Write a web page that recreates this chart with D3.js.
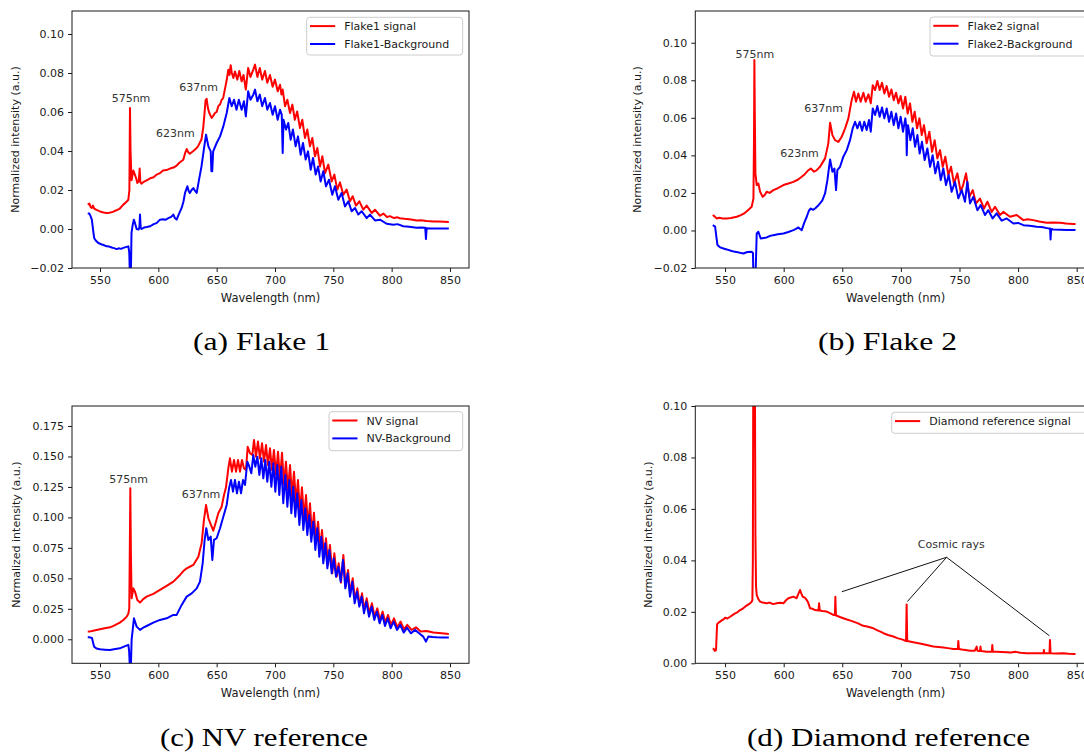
<!DOCTYPE html>
<html><head><meta charset="utf-8">
<script src="https://cdn.jsdelivr.net/npm/d3@7"></script>
<style>html,body{margin:0;padding:0;background:#fff;overflow:hidden}svg{display:block}</style>
</head><body>
<svg id="fig" width="1084" height="754"></svg>
<script>
// ---------------- data ----------------
const wavelengthTicks = [550, 600, 650, 700, 750, 800, 850];
const yTicksFlake = [-0.02, 0, 0.02, 0.04, 0.06, 0.08, 0.10];
const yTicksNV = [0, 0.025, 0.05, 0.075, 0.1, 0.125, 0.15, 0.175];
const yTicksDiamond = [0, 0.02, 0.04, 0.06, 0.08, 0.10];

const flake1Signal = [[539.5,0.0125],[540.9,0.013],[542,0.0112],[543,0.0108],[544,0.012],[545,0.0105],[547,0.0098],[550,0.009],[553,0.0085],[555.7,0.0082],[558,0.0083],[561,0.0088],[564,0.0096],[567,0.0105],[570,0.0125],[572.5,0.0138],[574.3,0.015],[575.2,0.02],[575.7,0.062],[576.2,0.04],[577,0.025],[578.6,0.030],[579.5,0.0285],[581,0.026],[582,0.0236],[583.2,0.0245],[584,0.031],[584.6,0.024],[585.5,0.0232],[587,0.024],[590,0.025],[593,0.026],[596,0.0265],[598.6,0.0279],[601,0.0285],[604,0.030],[607,0.0302],[610,0.031],[613,0.0315],[615.7,0.0325],[618,0.034],[621.4,0.0355],[623,0.039],[624.3,0.041],[625.5,0.0395],[627,0.0386],[630,0.040],[632,0.041],[634,0.0424],[637,0.046],[638.5,0.052],[639.4,0.058],[640.5,0.066],[641.4,0.0668],[642.5,0.062],[643.7,0.0595],[645.7,0.057],[647,0.058],[648.6,0.0595],[650,0.060],[651.4,0.063],[653,0.064],[654.3,0.0663],[655.5,0.067],[657,0.0715],[658.5,0.076],[660,0.0817],[661,0.079],[662,0.084],[663,0.080],[664.3,0.0774],[665.7,0.0808],[667.7,0.0766],[669.4,0.081],[671.4,0.0757],[673,0.079],[675,0.0715],[677,0.0826],[679,0.078],[681.4,0.0817],[682.9,0.0843],[684.9,0.078],[687,0.0826],[689,0.0766],[691.4,0.081],[693.4,0.075],[695.7,0.079],[698,0.073],[700,0.0766],[702.3,0.0706],[704.3,0.074],[705.5,0.069],[706.6,0.0715],[708.6,0.063],[710.6,0.0663],[712.9,0.0595],[714.9,0.0638],[717,0.056],[719,0.0603],[721.4,0.0518],[723.4,0.056],[725.7,0.0467],[727.7,0.051],[730,0.0424],[732,0.0467],[734.3,0.0373],[736.3,0.0415],[738.6,0.0321],[740.6,0.0373],[742.9,0.0287],[745.7,0.033],[748.6,0.0244],[750.9,0.0279],[753.4,0.0202],[755.7,0.0239],[758.6,0.0176],[761.4,0.0202],[764.3,0.0142],[766.6,0.0168],[769.4,0.012],[772.3,0.0142],[775.7,0.0099],[778.6,0.012],[782.9,0.0082],[785.7,0.0099],[790,0.0068],[792.9,0.0079],[796,0.0062],[798.6,0.0066],[802,0.0056],[805,0.006],[807,0.0055],[811,0.0052],[815,0.005],[818,0.0047],[821.4,0.0044],[825,0.0045],[830,0.0041],[835.7,0.0039],[840,0.0038],[845,0.0037],[849,0.0036]];

const flake1Background = [[539.5,0.008],[540.9,0.0079],[542,0.0065],[543,0.0048],[544,0.0],[545,-0.0046],[546.5,-0.006],[548.6,-0.0072],[551,-0.0078],[553,-0.0082],[555.7,-0.0089],[558,-0.009],[560,-0.0095],[562,-0.0098],[564.3,-0.0103],[566,-0.0099],[568,-0.0102],[570,-0.0097],[572,-0.0093],[574.3,-0.0089],[575.1,-0.012],[575.7,-0.026],[576.4,-0.026],[577,-0.002],[578,0.002],[579,0.0048],[580,0.003],[581.4,0.0],[583,-0.0003],[583.8,0.001],[584.3,0.0074],[584.9,0.0005],[585.7,0.0],[588,0.0008],[590,0.001],[593,0.0014],[596,0.0025],[598.5,0.003],[601.4,0.0048],[604,0.005],[606,0.0047],[608.6,0.0056],[611,0.0062],[612.9,0.0074],[614,0.0058],[615.7,0.0048],[617.5,0.0075],[620,0.0108],[621.5,0.014],[622.9,0.0185],[624.9,0.0219],[626,0.0195],[627,0.0185],[628.5,0.020],[630,0.021],[631.5,0.0195],[632.9,0.0185],[634.9,0.0253],[637,0.0321],[639,0.0407],[640.9,0.0484],[642.9,0.0424],[644.9,0.0398],[645.5,0.0296],[646.2,0.0296],[647,0.0398],[650,0.0441],[652.9,0.0475],[655.7,0.0526],[658.6,0.0595],[660.9,0.0672],[662.9,0.063],[664.9,0.0663],[667,0.0612],[669,0.0663],[671.4,0.0612],[673.4,0.0655],[675,0.0578],[677,0.0706],[679,0.0663],[681.4,0.0689],[682.9,0.0715],[684.9,0.0655],[687,0.0689],[689,0.063],[691.4,0.0672],[693.4,0.0612],[695.7,0.0646],[698,0.0586],[700,0.063],[702.3,0.056],[704.3,0.0612],[705.8,0.0585],[706.6,0.039],[707.3,0.056],[709.4,0.051],[711.4,0.0544],[713.4,0.0458],[715.4,0.051],[717.7,0.0424],[719.7,0.0475],[722,0.0381],[724,0.0441],[726.3,0.0356],[728.3,0.0398],[730.6,0.0304],[732.6,0.0364],[734.9,0.0279],[736.9,0.0321],[739.1,0.0244],[741.4,0.0296],[743.7,0.0219],[746.3,0.0253],[749.1,0.0176],[751.4,0.0219],[754.3,0.015],[757.1,0.0185],[760,0.0116],[762.9,0.0142],[765.7,0.0091],[768.6,0.0108],[771.4,0.0074],[774.3,0.0091],[778.6,0.0056],[781.4,0.0074],[785.7,0.0044],[790,0.0048],[795.7,0.0027],[801.4,0.0022],[805,0.0025],[810,0.0014],[815,0.0012],[821.4,0.0007],[825,0.0008],[828.8,0.0006],[829.4,-0.0051],[830,0.0004],[832.9,0.0003],[840,0.0003],[849,0.0003]];

const flake2Signal = [[539.5,0.0082],[541,0.0075],[542.9,0.0064],[545,0.0068],[548,0.0064],[551.4,0.0064],[555,0.0066],[560,0.0073],[563.5,0.0082],[567,0.0094],[570,0.011],[572.7,0.0126],[574.2,0.017],[574.7,0.05],[575,0.0908],[575.4,0.06],[575.9,0.0304],[577,0.0242],[578.4,0.025],[579.9,0.0206],[582.1,0.0179],[584,0.019],[585.5,0.0206],[588,0.020],[591.2,0.0215],[595,0.0225],[599.8,0.0242],[604,0.025],[608.3,0.0259],[612,0.027],[615.4,0.0286],[618,0.030],[621.1,0.0321],[623.1,0.033],[625.9,0.0313],[628,0.032],[631,0.0339],[633,0.036],[635.3,0.0384],[638.1,0.0464],[639.6,0.0574],[641.6,0.0508],[643.8,0.0481],[646.7,0.0472],[649.5,0.0499],[652.4,0.0544],[655.2,0.0597],[658,0.0694],[660,0.0739],[661.7,0.0686],[663.7,0.073],[665.7,0.0686],[668,0.0734],[670,0.0686],[672.3,0.0725],[674.3,0.0677],[676,0.0774],[678,0.0748],[679.9,0.0796],[681.9,0.0748],[683.9,0.0787],[685.9,0.073],[687.9,0.0769],[689.9,0.0712],[691.9,0.0751],[693.9,0.0694],[695.9,0.0734],[697.9,0.0677],[699.8,0.0716],[701.8,0.065],[703.8,0.0712],[705.8,0.0623],[707.8,0.0677],[709.8,0.0579],[711.8,0.0632],[713.8,0.0544],[715.8,0.0597],[717.8,0.0508],[719.7,0.0561],[722,0.0464],[724.3,0.0526],[726.6,0.0419],[728.8,0.0481],[731.1,0.0384],[733.4,0.0428],[735.7,0.0339],[737.9,0.0393],[740.5,0.0295],[742.8,0.0339],[745.3,0.025],[748.2,0.0304],[751,0.0206],[753,0.024],[755.6,0.0304],[758.4,0.0179],[761.3,0.0215],[764.1,0.0144],[767.5,0.017],[770.9,0.0117],[773.8,0.0153],[777.5,0.0099],[780.3,0.0126],[784.6,0.0082],[787.4,0.0099],[793.1,0.0073],[798.8,0.0082],[804.5,0.0055],[808,0.006],[813,0.0055],[818,0.0048],[824.4,0.0041],[830,0.0043],[835.8,0.0041],[841,0.0037],[847.1,0.0034],[849,0.0034]];

const flake2Background = [[539.5,0.0028],[541.5,0.002],[542.5,-0.003],[543.5,-0.0078],[545.7,-0.009],[548,-0.0095],[551.4,-0.0101],[555,-0.0108],[558.5,-0.0114],[562,-0.0118],[565.6,-0.0123],[569,-0.0115],[572.7,-0.0114],[573.8,-0.012],[574.2,-0.026],[575.9,-0.026],[577,-0.0016],[578.4,-0.0007],[580.4,-0.0043],[583,-0.004],[585.5,-0.0037],[588,-0.003],[591.2,-0.0025],[595,-0.002],[599.8,-0.0016],[604,-0.0008],[608.3,0.0002],[610.5,0.0008],[612.6,0.0016],[614,0.0008],[615.4,0.0002],[617.5,0.004],[619.7,0.0073],[621.5,0.0105],[623.1,0.0117],[625,0.011],[626.8,0.0117],[629,0.013],[631,0.0144],[633,0.016],[635.3,0.0197],[637.3,0.0268],[639.6,0.0378],[641.6,0.0313],[643.3,0.033],[644.7,0.0215],[645.8,0.0321],[648.1,0.0339],[650.9,0.0393],[653.8,0.0428],[656.6,0.0481],[658.9,0.0544],[660.9,0.0579],[662.9,0.0544],[664.9,0.0579],[666.9,0.0531],[668.8,0.0579],[670.8,0.0535],[672.8,0.0588],[674.3,0.0526],[676,0.065],[678,0.0615],[679.9,0.0663],[681.9,0.0606],[683.9,0.0655],[685.9,0.0597],[687.9,0.065],[689.9,0.0579],[691.9,0.0632],[693.9,0.0561],[695.9,0.0623],[697.9,0.0544],[699.8,0.0606],[701.8,0.0526],[703.8,0.0597],[704.6,0.055],[705,0.0401],[705.5,0.052],[706.1,0.0561],[708.1,0.0481],[710.1,0.0544],[712.1,0.0446],[714.1,0.0508],[716,0.041],[718,0.0472],[720.3,0.0375],[722.6,0.0437],[724.9,0.0339],[727.1,0.0401],[729.4,0.0304],[731.7,0.0366],[734,0.0268],[736.2,0.033],[738.5,0.0242],[740.8,0.0295],[743.3,0.0206],[746.2,0.0259],[749,0.0171],[751.9,0.0215],[754.7,0.0153],[756.7,0.0259],[759,0.0144],[761.8,0.0179],[765.3,0.0108],[768.1,0.0135],[771.8,0.0082],[774.6,0.0108],[778.3,0.0064],[781.7,0.0091],[786,0.0052],[790.3,0.0064],[796,0.0037],[800,0.004],[804.5,0.0028],[810,0.0025],[815.8,0.002],[820,0.0018],[825.7,0.0011],[827.3,0.001],[827.7,-0.0048],[828.2,0.0008],[830,0.0005],[836,0.0004],[842,0.0003],[849,0.0002]];

const nvSignal = [[539.5,0.0063],[540.9,0.0063],[545,0.0072],[550,0.0082],[554,0.009],[558.6,0.0098],[562,0.0112],[567,0.0137],[570,0.0158],[572.9,0.0186],[574.3,0.021],[575.1,0.0254],[575.6,0.08],[576,0.1239],[576.5,0.07],[577.1,0.0336],[578.6,0.0418],[580,0.0391],[582,0.0323],[584.3,0.0301],[587,0.033],[590,0.035],[595.7,0.0372],[601.4,0.0405],[607.1,0.0438],[612.9,0.0473],[618.6,0.0528],[622,0.0565],[624.3,0.0582],[627,0.0595],[630,0.061],[634.3,0.0678],[637.1,0.0788],[639.1,0.0979],[640.9,0.1102],[642.9,0.0993],[645.1,0.0938],[647.1,0.0891],[649.4,0.0965],[651.4,0.1034],[654.3,0.1088],[656.3,0.1184],[658,0.1247],[660,0.1403],[661.4,0.1485],[663.1,0.1375],[664.9,0.1471],[666.6,0.1375],[668.3,0.1471],[670,0.1375],[671.7,0.1471],[673.4,0.1403],[675.1,0.1389],[676.6,0.158],[678.6,0.1526],[680.6,0.1512],[682,0.1635],[683.7,0.1498],[685.4,0.1622],[687.1,0.1485],[688.9,0.1608],[690.6,0.1457],[692.3,0.1594],[694,0.143],[695.7,0.1567],[697.4,0.1389],[699.1,0.1553],[700.9,0.1348],[702.6,0.1539],[704.3,0.1307],[706,0.1531],[707.7,0.1266],[709.4,0.1457],[711.1,0.1225],[712.9,0.143],[714.6,0.117],[716.3,0.1375],[718,0.1116],[719.7,0.1307],[721.4,0.1047],[723.1,0.1247],[724.9,0.0993],[726.6,0.1184],[728.3,0.0924],[730,0.1116],[731.7,0.0856],[733.4,0.1039],[735.1,0.0788],[736.9,0.0965],[738.6,0.0733],[740.3,0.0897],[742,0.0664],[743.7,0.0829],[745.4,0.061],[747.1,0.0774],[749.1,0.0541],[750.9,0.0705],[752.9,0.0514],[754.6,0.0623],[756.6,0.0465],[758.6,0.0692],[760.6,0.0432],[762.6,0.0569],[764.6,0.0377],[766.6,0.05],[768.6,0.0323],[770.6,0.0418],[772.6,0.0282],[774.6,0.0377],[776.6,0.0241],[778.6,0.0336],[780.9,0.0213],[783.1,0.0295],[785.4,0.0186],[787.7,0.0254],[790,0.0159],[792.3,0.0227],[794.6,0.0137],[796.9,0.02],[799.4,0.0118],[802,0.0172],[804.9,0.0098],[807.7,0.0145],[810.6,0.0082],[813.4,0.0118],[817.1,0.0077],[820.9,0.0098],[824.9,0.0063],[830,0.0068],[835.7,0.0055],[842.9,0.0049],[849,0.0044]];

const nvBackground = [[539.5,0.0016],[540.9,0.0016],[543.1,0.0011],[544.9,-0.006],[547,-0.0075],[550,-0.0082],[554,-0.0085],[558.6,-0.0088],[562,-0.0082],[567,-0.0074],[570,-0.0062],[574.3,-0.0046],[575,-0.01],[575.7,-0.026],[576.4,-0.026],[577.1,-0.0005],[579.1,0.0172],[581.4,0.0104],[584.3,0.0077],[587,0.0095],[590,0.0109],[595.7,0.0137],[601.4,0.0159],[607.1,0.0172],[612.9,0.02],[615.7,0.02],[620,0.0282],[624.3,0.035],[628.6,0.0377],[632.9,0.0418],[635.7,0.0473],[638,0.0623],[639.7,0.0815],[641.1,0.0911],[642.9,0.0815],[644.9,0.0842],[646.3,0.0651],[647.7,0.0815],[650,0.0829],[652.9,0.0911],[655.7,0.1006],[658.6,0.1102],[660.6,0.1239],[662.3,0.1307],[664,0.1211],[665.7,0.1307],[667.4,0.1198],[669.1,0.1293],[670.9,0.1198],[672.6,0.1307],[674.3,0.1266],[676.3,0.1457],[678,0.1416],[679.7,0.1362],[681.4,0.1512],[683.1,0.1416],[684.9,0.1498],[686.6,0.1348],[688.3,0.1485],[690,0.1321],[691.7,0.1471],[693.4,0.1293],[695.1,0.1457],[696.9,0.1252],[698.6,0.1444],[700.3,0.1211],[702,0.143],[703.7,0.1184],[705.4,0.1416],[707.1,0.1116],[708.9,0.1348],[710.6,0.1088],[712.3,0.1307],[714,0.1034],[715.7,0.1252],[717.4,0.1006],[719.1,0.1198],[720.9,0.0938],[722.6,0.1143],[724.3,0.0897],[726,0.1075],[727.7,0.0856],[729.4,0.102],[731.1,0.0801],[732.9,0.0965],[734.6,0.0733],[736.3,0.0911],[738,0.0678],[739.7,0.0842],[741.4,0.0623],[743.1,0.0788],[744.9,0.0582],[746.6,0.0733],[748.6,0.0541],[750.3,0.0664],[752.3,0.0514],[754.3,0.0596],[756.3,0.0473],[758.3,0.0651],[760.3,0.0418],[762.3,0.0541],[764.3,0.035],[766.3,0.0473],[768.3,0.0295],[770.3,0.0391],[772.3,0.0268],[774.3,0.035],[776.3,0.0213],[778.3,0.0309],[780.6,0.0186],[782.9,0.0268],[785.1,0.0159],[787.4,0.0227],[789.7,0.0131],[792,0.02],[794.3,0.0109],[796.6,0.0172],[799.1,0.009],[801.7,0.0145],[804.6,0.0077],[807.4,0.0118],[810.3,0.0055],[813.1,0.0096],[816.6,0.0049],[820,0.0077],[824.3,0.0044],[827.1,0.0022],[829.4,-0.0019],[831.4,0.0022],[835,0.0018],[838.6,0.0016],[844,0.0015],[849,0.0014]];

const diamondSignal = [[539.5,0.0058],[540.5,0.0055],[541.2,0.0048],[542.3,0.0052],[543.2,0.0152],[544.5,0.0158],[545.7,0.0162],[547.5,0.0168],[549,0.0172],[550,0.0177],[552,0.0174],[554.3,0.0181],[556,0.0186],[558.5,0.0194],[560.5,0.0198],[562.8,0.0207],[565,0.0212],[567.1,0.022],[569,0.0226],[571.3,0.0233],[572.5,0.0238],[573.3,0.0246],[573.7,0.04],[574.1,0.12],[575.4,0.12],[575.9,0.05],[576.4,0.03],[577,0.0266],[578.5,0.0248],[579.9,0.024],[582,0.0236],[585.5,0.0233],[588,0.0236],[591,0.023],[594.1,0.0233],[597,0.0235],[599.8,0.0233],[602,0.0245],[604,0.0253],[606,0.0256],[608.3,0.0259],[610,0.0255],[611.1,0.0253],[612.5,0.027],[614,0.0285],[615,0.0272],[616.2,0.0259],[618,0.0255],[619.7,0.0246],[621,0.0235],[622.5,0.0214],[624.5,0.0212],[626.8,0.0207],[629.7,0.0205],[630.2,0.0233],[630.8,0.0205],[633,0.0203],[636.7,0.0201],[639.5,0.0195],[642.4,0.0188],[643.7,0.0188],[644.1,0.0259],[644.6,0.0186],[645.3,0.0185],[648,0.018],[650.9,0.0175],[654,0.017],[657,0.0166],[659.5,0.0162],[663,0.0156],[666,0.0149],[668,0.0146],[672,0.0142],[676.5,0.0136],[680,0.0128],[683,0.0122],[685.1,0.0117],[689,0.011],[693.6,0.0104],[697,0.0098],[700,0.0094],[702.1,0.0091],[704.4,0.0086],[704.9,0.0229],[705.4,0.0087],[707.5,0.0085],[710.6,0.0082],[714,0.0079],[719.2,0.0074],[723,0.007],[727.7,0.0065],[732,0.0063],[736.2,0.0061],[740,0.0059],[744.8,0.0056],[748.6,0.0056],[749,0.0087],[749.5,0.0056],[752,0.0054],[755,0.0052],[759,0.0049],[763,0.0049],[764.7,0.0065],[765.2,0.0049],[767.5,0.0048],[767.9,0.0065],[768.4,0.0048],[773.2,0.0045],[777.6,0.0045],[778,0.0071],[778.5,0.0045],[781.7,0.0045],[786,0.0044],[790.3,0.0043],[794,0.0042],[797.4,0.0045],[802,0.0041],[807.3,0.0039],[812,0.0039],[818.6,0.0039],[821.7,0.0039],[822,0.0052],[822.4,0.0039],[826.8,0.0039],[827.2,0.0091],[827.7,0.0039],[832,0.0038],[838.6,0.0039],[843,0.0037],[847.7,0.0036],[849,0.0036]];

const flake1Notes = [["575nm", 560, 0.065], ["623nm", 598, 0.047], ["637nm", 618, 0.071]];
const flake2Notes = [["575nm", 559, 0.092], ["623nm", 597, 0.039], ["637nm", 617.5, 0.063]];
const nvNotes = [["575nm", 558, 0.128], ["637nm", 620, 0.116]];
const cosmicRayLabel = ["Cosmic rays", 743, 0.0449];
const cosmicRayOrigin = [739, 0.0412];
const cosmicRayPeaks = [[649.6, 0.0278], [705.5, 0.024], [826.7, 0.0107]];

const captions = ["(a) Flake 1", "(b) Flake 2", "(c) NV reference", "(d) Diamond reference"];

// ---------------- layout ----------------
const RED = "#ff0000", BLUE = "#0000ff", INK = "#1a1a1a";
const FONT = "DejaVu Sans, sans-serif";

const panels = [
  {x0:72, x1:469, y0:11, y1:268, xDom:[526,866.3], yDom:[-0.02,0.1118], yTicks:yTicksFlake, yFmt:".2f",
   series:[[flake1Signal,RED,"Flake1 signal"],[flake1Background,BLUE,"Flake1-Background"]],
   legend:{x:306.7,y:17.3,w:156,h:37.7}, notes:flake1Notes, ylabX:19.3, xlabY:301.7, cap:[261.5,350,137]},
  {x0:695.3, x1:1095.8, y0:11, y1:268, xDom:[524.6,866.3], yDom:[-0.02,0.1169], yTicks:yTicksFlake, yFmt:".2f",
   series:[[flake2Signal,RED,"Flake2 signal"],[flake2Background,BLUE,"Flake2-Background"]],
   legend:{x:930,y:17,w:170,h:39}, notes:flake2Notes, ylabX:641.3, xlabY:301.7, cap:[887.5,350,139]},
  {x0:72, x1:469, y0:406, y1:663.3, xDom:[526,866.3], yDom:[-0.0197,0.1914], yTicks:yTicksNV, yFmt:".3f",
   series:[[nvSignal,RED,"NV signal"],[nvBackground,BLUE,"NV-Background"]],
   legend:{x:329,y:411.7,w:133.7,h:39}, notes:nvNotes, ylabX:20.3, xlabY:696.7, cap:[264,746,208]},
  {x0:695.3, x1:1095.8, y0:406, y1:663.3, xDom:[524.6,866.3], yDom:[0,0.1], yTicks:yTicksDiamond, yFmt:".2f",
   series:[[diamondSignal,RED,"Diamond reference signal"]],
   legend:{x:891.7,y:412.3,w:210,h:21}, notes:[], ylabX:652, xlabY:696.7, cap:[888.5,746,283], cosmic:true}
];

const svg = d3.select("#fig");
svg.append("rect").attr("width",1084).attr("height",754).attr("fill","#fff");
const defs = svg.append("defs");

panels.forEach((p, i) => {
  const x = d3.scaleLinear().domain(p.xDom).range([p.x0, p.x1]);
  const y = d3.scaleLinear().domain(p.yDom).range([p.y1, p.y0]);
  const g = svg.append("g");

  defs.append("clipPath").attr("id", "clip" + i)
    .append("rect").attr("x", p.x0).attr("y", p.y0).attr("width", p.x1 - p.x0).attr("height", p.y1 - p.y0);

  // axes
  const xAxis = d3.axisBottom(x).tickValues(wavelengthTicks).tickFormat(d3.format("d")).tickSize(4).tickPadding(4).tickSizeOuter(0);
  const yAxis = d3.axisLeft(y).tickValues(p.yTicks).tickFormat(d3.format(p.yFmt)).tickSize(4).tickPadding(4).tickSizeOuter(0);
  const gx = g.append("g").attr("transform", `translate(0,${p.y1})`).call(xAxis);
  const gy = g.append("g").attr("transform", `translate(${p.x0},0)`).call(yAxis);
  [gx, gy].forEach(a => {
    a.select(".domain").remove();
    a.selectAll("line").attr("stroke", INK).attr("stroke-width", 1);
    a.selectAll("text").attr("fill", INK).style("font-family", FONT).style("font-size", "11px");
  });

  // lines
  const line = d3.line().x(d => x(d[0])).y(d => y(d[1]));
  const lg = g.append("g").attr("clip-path", `url(#clip${i})`);
  p.series.forEach(s => {
    lg.append("path").datum(s[0]).attr("d", line).attr("fill", "none")
      .attr("stroke", s[1]).attr("stroke-width", 2).attr("stroke-linejoin", "round");
  });

  // spines
  g.append("rect").attr("x", p.x0).attr("y", p.y0).attr("width", p.x1 - p.x0).attr("height", p.y1 - p.y0)
    .attr("fill", "none").attr("stroke", INK).attr("stroke-width", 1);

  // annotations
  p.notes.forEach(n => {
    g.append("text").attr("x", x(n[1])).attr("y", y(n[2])).text(n[0])
      .attr("fill", "#333").style("font-family", FONT).style("font-size", "11px");
  });
  if (p.cosmic) {
    cosmicRayPeaks.forEach(c => {
      g.append("line").attr("x1", x(cosmicRayOrigin[0])).attr("y1", y(cosmicRayOrigin[1]))
        .attr("x2", x(c[0])).attr("y2", y(c[1])).attr("stroke", "#111").attr("stroke-width", 1);
    });
    g.append("text").attr("x", x(cosmicRayLabel[1])).attr("y", y(cosmicRayLabel[2])).attr("text-anchor", "middle")
      .text(cosmicRayLabel[0]).attr("fill", "#333").style("font-family", FONT).style("font-size", "11px");
  }

  // legend
  const L = p.legend;
  const lgd = g.append("g");
  lgd.append("rect").attr("x", L.x).attr("y", L.y).attr("width", L.w).attr("height", L.h).attr("rx", 3)
    .attr("fill", "#fff").attr("fill-opacity", 0.85).attr("stroke", "#cccccc").attr("stroke-width", 1);
  p.series.forEach((s, k) => {
    const ry = L.y + 8.8 + k * 17.9;
    lgd.append("line").attr("x1", L.x + 3.3).attr("x2", L.x + 28.5).attr("y1", ry).attr("y2", ry)
      .attr("stroke", s[1]).attr("stroke-width", 2);
    lgd.append("text").attr("x", L.x + 37.5).attr("y", ry + 4).text(s[2])
      .attr("fill", INK).style("font-family", FONT).style("font-size", "11px");
  });

  // axis labels
  g.append("text").attr("x", (p.x0 + p.x1) / 2).attr("y", p.xlabY).attr("text-anchor", "middle")
    .text("Wavelength (nm)").attr("fill", INK).style("font-family", FONT).style("font-size", "11.5px");
  g.append("text").attr("transform", `translate(${p.ylabX},${(p.y0 + p.y1) / 2}) rotate(-90)`).attr("text-anchor", "middle")
    .text("Normalized intensity (a.u.)").attr("fill", INK).style("font-family", FONT).style("font-size", "11px");

  // caption
  svg.append("text").attr("x", p.cap[0]).attr("y", p.cap[1]).attr("text-anchor", "middle")
    .attr("textLength", p.cap[2]).attr("lengthAdjust", "spacingAndGlyphs")
    .text(captions[i]).attr("fill", "#000").style("font-family", "Liberation Serif, serif").style("font-size", "25px");
});
</script>
</body></html>
